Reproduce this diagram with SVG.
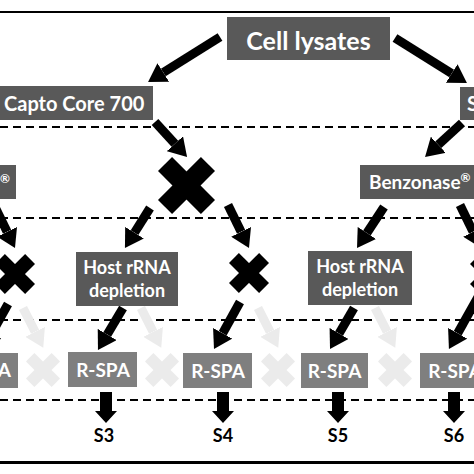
<svg xmlns="http://www.w3.org/2000/svg" width="474" height="474" viewBox="0 0 474 474">
<style>
.box{fill:#595959}
.rbox{fill:#7f7f7f}
.wt{fill:#fff;font-family:Lato,"Liberation Sans",sans-serif;font-weight:bold}
.bt{fill:#000;font-family:Lato,"Liberation Sans",sans-serif;font-weight:bold;font-size:18px;text-anchor:middle}
.dash{stroke:#000;stroke-width:2;stroke-dasharray:8 5;fill:none}
.arr{stroke:#000;stroke-width:9;fill:none;marker-end:url(#ah)}
.farr{stroke:#ebebeb;stroke-width:9;fill:none;marker-end:url(#fah)}
</style>
<defs>
<marker id="ah" markerUnits="userSpaceOnUse" viewBox="0 0 18 22" markerWidth="18" markerHeight="22" refX="0" refY="11" orient="auto"><path d="M0,0 L18,11 L0,22 z" fill="#000"/></marker>
<marker id="fah" markerUnits="userSpaceOnUse" viewBox="0 0 18 22" markerWidth="18" markerHeight="22" refX="0" refY="11" orient="auto"><path d="M0,0 L18,11 L0,22 z" fill="#ebebeb"/></marker>
<g id="xm"><g transform="rotate(45)"><rect x="-21.3" y="-7" width="42.6" height="14"/><rect x="-7" y="-21.3" width="14" height="42.6"/></g></g>
</defs>
<rect width="474" height="474" fill="#fff"/>
<g id="frame">
<line x1="0" y1="12" x2="474" y2="12" stroke="#000" stroke-width="2"/>
<line x1="0" y1="462.5" x2="474" y2="462.5" stroke="#000" stroke-width="3"/>
<line class="dash" x1="0" y1="127" x2="474" y2="127"/>
<line class="dash" x1="0" y1="218" x2="474" y2="218"/>
<line class="dash" x1="0" y1="320" x2="474" y2="320"/>
<line class="dash" x1="0" y1="400" x2="474" y2="400"/>
</g>
<g id="faint">
<use href="#xm" fill="#ebebeb" transform="translate(43,370) scale(0.85)"/>
<use href="#xm" fill="#ebebeb" transform="translate(162,370) scale(0.85)"/>
<use href="#xm" fill="#ebebeb" transform="translate(278,370) scale(0.85)"/>
<use href="#xm" fill="#ebebeb" transform="translate(395,370) scale(0.85)"/>
<line class="farr" x1="23" y1="308" x2="35.1" y2="331.8"/>
<line class="farr" x1="141" y1="308" x2="153.1" y2="331.8"/>
<line class="farr" x1="258" y1="308" x2="270.1" y2="331.8"/>
<line class="farr" x1="375" y1="308" x2="387.1" y2="331.8"/>
</g>
<g id="connectors">
<line class="arr" x1="220" y1="37" x2="163.3" y2="72.5"/>
<line class="arr" x1="395" y1="38" x2="451.7" y2="73.5"/>
<line class="arr" x1="155" y1="122" x2="174.9" y2="143.7"/>
<line class="arr" x1="150" y1="208" x2="134.5" y2="232.7"/>
<line class="arr" x1="228" y1="205" x2="241.1" y2="231.8"/>
<line class="arr" x1="462" y1="123" x2="438.3" y2="144.8"/>
<line class="arr" x1="384" y1="207" x2="366.9" y2="233"/>
<line class="arr" x1="460" y1="205" x2="473.1" y2="231.8"/>
<line class="arr" x1="-6" y1="205" x2="7.1" y2="231.8"/>
<line class="arr" x1="123" y1="308" x2="107.2" y2="334.5"/>
<line class="arr" x1="240" y1="302" x2="222.7" y2="333.3"/>
<line class="arr" x1="354" y1="308" x2="339.1" y2="333.5"/>
<line class="arr" x1="478" y1="297" x2="457.7" y2="333.3"/>
<line class="arr" x1="8" y1="304" x2="-8.3" y2="333.3"/>
<path d="M100,392 h12 v19 h5 l-11,12 l-11,-12 h5 z"/>
<path d="M217,392 h12 v19 h5 l-11,12 l-11,-12 h5 z"/>
<path d="M332,392 h12 v19 h5 l-11,12 l-11,-12 h5 z"/>
<path d="M448,392 h12 v19 h5 l-11,12 l-11,-12 h5 z"/>
</g>
<g id="cell-lysates"><rect class="box" x="227" y="17" width="163" height="43"/><text class="wt" x="308.5" y="50" font-size="25" text-anchor="middle">Cell lysates</text></g>
<g id="capto"><rect class="box" x="0" y="86" width="153" height="34"/><text class="wt" x="4" y="111" font-size="20">Capto Core 700</text></g>
<g id="right-top"><rect class="box" x="460" y="87" width="20" height="33"/><text class="wt" x="467" y="111" font-size="20">S</text></g>
<g id="benzonase-left"><rect class="box" x="0" y="165" width="16" height="34"/><text class="wt" x="0" y="183" font-size="12">®</text></g>
<g id="benzonase"><rect class="box" x="360" y="165" width="120" height="34"/><text class="wt" x="369" y="189" font-size="19">Benzonase<tspan font-size="12" dy="-7">®</tspan></text></g>
<g id="cross-big"><use href="#xm" fill="#000" transform="translate(186.5,185.5) scale(1.425)"/></g>
<g id="cross-left"><use href="#xm" fill="#000" transform="translate(15,274)"/></g>
<g id="cross-mid"><use href="#xm" fill="#000" transform="translate(249,273)"/></g>
<g id="cross-right"><use href="#xm" fill="#000" transform="translate(490,274)"/></g>
<g id="host1"><rect class="box" x="76" y="252" width="102" height="54"/><text class="wt" x="127" y="274" font-size="18" text-anchor="middle">Host rRNA</text><text class="wt" x="127" y="297" font-size="18" text-anchor="middle">depletion</text></g>
<g id="host2"><rect class="box" x="308" y="251" width="104" height="54"/><text class="wt" x="360" y="273" font-size="18" text-anchor="middle">Host rRNA</text><text class="wt" x="360" y="296" font-size="18" text-anchor="middle">depletion</text></g>
<g id="rspa0"><rect class="rbox" x="0" y="353" width="18" height="35"/><text class="wt" x="11" y="377" font-size="19" text-anchor="end">A</text></g>
<g id="rspa1"><rect class="rbox" x="68" y="352" width="69" height="35"/><text class="wt" x="103" y="377" font-size="19" text-anchor="middle">R-SPA</text></g>
<g id="rspa2"><rect class="rbox" x="183" y="353" width="69" height="35"/><text class="wt" x="218" y="378" font-size="19" text-anchor="middle">R-SPA</text></g>
<g id="rspa3"><rect class="rbox" x="301" y="353" width="67" height="35"/><text class="wt" x="334.5" y="378" font-size="19" text-anchor="middle">R-SPA</text></g>
<g id="rspa4"><rect class="rbox" x="420" y="353" width="70" height="35"/><text class="wt" x="455" y="378" font-size="19" text-anchor="middle">R-SPA</text></g>
<g id="labels">
<text class="bt" x="104" y="442">S3</text>
<text class="bt" x="223" y="442">S4</text>
<text class="bt" x="338" y="442">S5</text>
<text class="bt" x="454" y="442">S6</text>
</g>
</svg>
